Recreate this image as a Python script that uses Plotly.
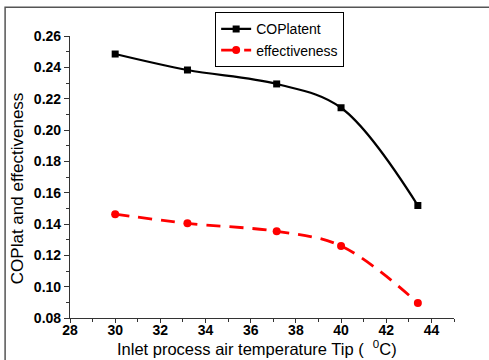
import plotly.graph_objects as go

temps = [30.0, 33.2, 37.15, 40.0, 43.4]
cop_latent = [0.2485, 0.2383, 0.2294, 0.2142, 0.1518]
effectiveness = [0.1463, 0.1404, 0.1353, 0.1260, 0.0896]
x_ticks = [28, 30, 32, 34, 36, 38, 40, 42, 44]
y_ticks = [0.08, 0.10, 0.12, 0.14, 0.16, 0.18, 0.20, 0.22, 0.24, 0.26]
x_title = "Inlet process air temperature Tip (  <sup>0</sup>C)"
y_title = "COPlat and effectiveness"

fig = go.Figure()
fig.add_trace(go.Scatter(
    x=temps, y=cop_latent, name="COPlatent", mode="lines+markers",
    line=dict(color="black", width=2.2, shape="spline"),
    marker=dict(symbol="square", size=7, color="black")))
fig.add_trace(go.Scatter(
    x=temps, y=effectiveness, name="effectiveness", mode="lines+markers",
    line=dict(color="red", width=2.8, shape="spline", dash="14px,9px"),
    marker=dict(symbol="circle", size=8, color="red")))

fig.update_layout(
    width=489, height=360,
    margin=dict(l=70, r=35, t=34, b=42),
    paper_bgcolor="white", plot_bgcolor="white",
    showlegend=True,
    legend=dict(x=0.378, y=1.084, xanchor="left", yanchor="top",
                bordercolor="black", borderwidth=1, bgcolor="white",
                font=dict(family="Liberation Sans, Arial", size=14, color="black"),
                tracegroupgap=0, itemwidth=30),
    xaxis=dict(range=[28, 45], tickvals=x_ticks, ticktext=[str(v) for v in x_ticks],
               showgrid=False, zeroline=False, showline=True, linecolor="#333", linewidth=1.2,
               ticks="outside", ticklen=4, tickcolor="#333", ticklabelstandoff=-5,
               minor=dict(dtick=1, ticks="outside", ticklen=3, tickcolor="#333"),
               tickfont=dict(family="Liberation Sans, Arial", size=14, color="black", weight="bold"),
               automargin=False),
    yaxis=dict(range=[0.08, 0.26], tickvals=y_ticks, ticktext=["%.2f" % v for v in y_ticks],
               showgrid=False, zeroline=False, showline=True, linecolor="#333", linewidth=1.2,
               ticks="outside", ticklen=5, tickcolor="#333",
               minor=dict(dtick=0.01, ticks="outside", ticklen=3, tickcolor="#333"),
               tickfont=dict(family="Liberation Sans, Arial", size=14, color="black", weight="bold"),
               automargin=False),
    annotations=[
        dict(text=x_title, xref="paper", yref="paper", x=0.487, y=-0.108,
             xanchor="center", yanchor="middle", showarrow=False,
             font=dict(family="Liberation Sans, Arial", size=16.5, color="black")),
        dict(text=y_title, xref="paper", yref="paper", x=-0.135, y=0.461,
             xanchor="center", yanchor="middle", showarrow=False, textangle=-90,
             font=dict(family="Liberation Sans, Arial", size=17, color="black")),
    ],
    shapes=[dict(type="rect", xref="paper", yref="paper",
                 x0=-0.169, x1=1.3, y0=-0.3, y1=1.102,
                 line=dict(color="#555", width=1.5), fillcolor="rgba(0,0,0,0)", layer="below")],
)
fig.write_html("out.html")
